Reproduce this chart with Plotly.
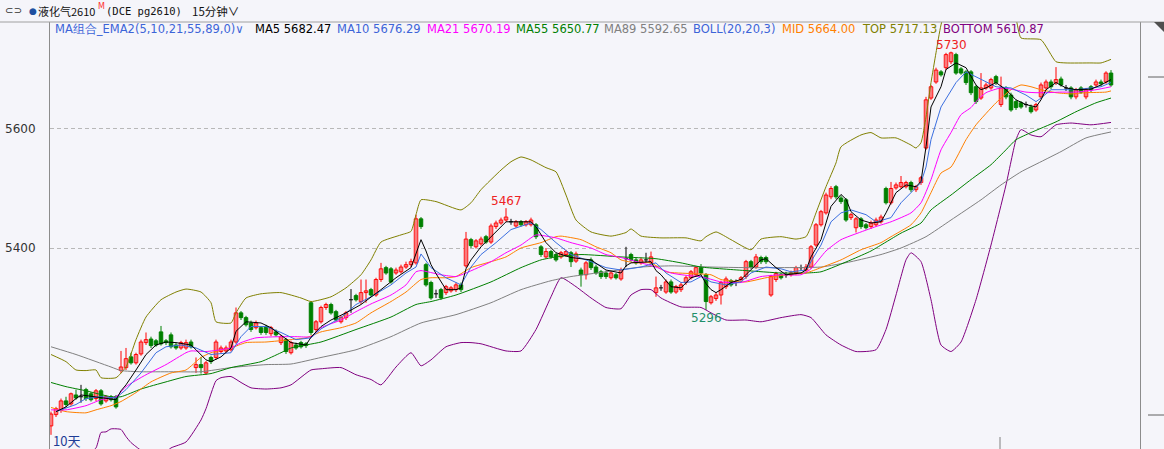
import plotly.graph_objects as go

# 15-minute candles, pg2610
opens = [
    5101, 5120, 5127, 5143, 5138, 5153, 5150, 5162, 5155, 5147,
    5160, 5143, 5150, 5150, 5194, 5199, 5217, 5207, 5222, 5241,
    5247, 5244, 5259, 5244, 5254, 5237, 5232, 5232, 5242, 5199,
    5204, 5190, 5216, 5216, 5226, 5227, 5229, 5242, 5291, 5283,
    5274, 5266, 5266, 5268, 5256, 5259, 5241, 5246, 5224, 5237,
    5241, 5239, 5308, 5263, 5276, 5300, 5305, 5293, 5276, 5283,
    5313, 5320, 5310, 5325, 5330, 5321, 5347, 5367, 5365, 5358,
    5360, 5368, 5372, 5375, 5449, 5372, 5342, 5323, 5330, 5325,
    5328, 5330, 5338, 5370, 5414, 5402, 5407, 5419, 5410, 5436,
    5442, 5447, 5444, 5437, 5444, 5439, 5439, 5439, 5402, 5385,
    5394, 5389, 5385, 5389, 5392, 5378, 5363, 5355, 5380, 5368,
    5360, 5358, 5350, 5355, 5348, 5382, 5389, 5380, 5375, 5380,
    5375, 5325, 5333, 5326, 5343, 5326, 5330, 5342, 5350, 5355,
    5367, 5355, 5308, 5315, 5321, 5335, 5345, 5342, 5347, 5352,
    5377, 5368, 5384, 5384, 5321, 5347, 5355, 5355, 5355, 5358,
    5367, 5363, 5368, 5405, 5439, 5459, 5486, 5503, 5484, 5481,
    5451, 5434, 5449, 5439, 5436, 5439, 5444, 5500, 5476, 5501,
    5503, 5503, 5510, 5498, 5510, 5568, 5652, 5679, 5696, 5703,
    5713, 5725, 5701, 5696, 5696, 5671, 5652, 5669, 5669, 5688,
    5641, 5669, 5657, 5646, 5644, 5641, 5637, 5632, 5654, 5669,
    5679, 5678, 5684, 5669, 5669, 5654, 5669, 5654, 5671, 5674,
    5679, 5679, 5694]
closes = [
    5121, 5130, 5143, 5137, 5155, 5148, 5150, 5147, 5145, 5160,
    5138, 5150, 5145, 5133, 5200, 5214, 5207, 5221, 5242, 5246,
    5236, 5237, 5239, 5241, 5234, 5232, 5241, 5241, 5234, 5204,
    5199, 5207, 5209, 5242, 5232, 5232, 5242, 5291, 5283, 5271,
    5263, 5274, 5258, 5258, 5266, 5254, 5251, 5226, 5241, 5232,
    5234, 5236, 5258, 5276, 5300, 5305, 5291, 5279, 5283, 5291,
    5313, 5313, 5325, 5328, 5321, 5347, 5365, 5358, 5343, 5363,
    5368, 5372, 5377, 5449, 5436, 5338, 5316, 5323, 5316, 5335,
    5333, 5338, 5330, 5415, 5404, 5412, 5415, 5410, 5437, 5442,
    5447, 5452, 5444, 5444, 5439, 5444, 5447, 5419, 5389, 5394,
    5385, 5380, 5392, 5394, 5377, 5390, 5355, 5375, 5367, 5358,
    5352, 5352, 5358, 5350, 5363, 5382, 5380, 5375, 5380, 5380,
    5385, 5333, 5333, 5343, 5326, 5335, 5338, 5350, 5360, 5367,
    5358, 5310, 5318, 5321, 5342, 5348, 5338, 5342, 5350, 5377,
    5368, 5385, 5377, 5377, 5352, 5357, 5350, 5355, 5358, 5367,
    5367, 5368, 5402, 5439, 5461, 5489, 5500, 5486, 5478, 5447,
    5456, 5449, 5436, 5434, 5442, 5447, 5452, 5476, 5500, 5506,
    5510, 5510, 5498, 5503, 5518, 5649, 5671, 5699, 5691, 5725,
    5728, 5694, 5694, 5678, 5661, 5646, 5669, 5674, 5683, 5678,
    5669, 5654, 5632, 5636, 5637, 5641, 5629, 5641, 5674, 5679,
    5671, 5683, 5674, 5669, 5654, 5666, 5662, 5666, 5666, 5679,
    5676, 5694, 5674]
highs = [
    5125, 5133, 5147, 5150, 5157, 5162, 5170, 5165, 5158, 5163,
    5163, 5153, 5153, 5153, 5227, 5232, 5224, 5224, 5246, 5258,
    5251, 5247, 5269, 5247, 5258, 5241, 5244, 5246, 5246, 5216,
    5217, 5210, 5219, 5246, 5236, 5236, 5246, 5300, 5294, 5286,
    5278, 5278, 5269, 5271, 5269, 5263, 5254, 5249, 5244, 5241,
    5244, 5242, 5311, 5279, 5303, 5308, 5308, 5296, 5286, 5294,
    5331, 5323, 5347, 5347, 5333, 5350, 5375, 5370, 5368, 5367,
    5372, 5377, 5382, 5456, 5452, 5375, 5345, 5330, 5333, 5338,
    5336, 5342, 5342, 5427, 5417, 5415, 5419, 5422, 5441, 5446,
    5451, 5467, 5449, 5447, 5447, 5447, 5451, 5442, 5405, 5400,
    5397, 5392, 5395, 5397, 5395, 5394, 5367, 5378, 5384, 5372,
    5363, 5362, 5362, 5358, 5367, 5402, 5392, 5384, 5384, 5392,
    5394, 5352, 5338, 5347, 5347, 5338, 5342, 5353, 5363, 5370,
    5373, 5358, 5321, 5325, 5345, 5352, 5348, 5347, 5353, 5380,
    5380, 5390, 5387, 5387, 5355, 5360, 5358, 5360, 5362, 5370,
    5372, 5373, 5405, 5442, 5464, 5493, 5504, 5506, 5488, 5484,
    5459, 5452, 5452, 5442, 5446, 5451, 5456, 5503, 5511, 5510,
    5521, 5513, 5513, 5506, 5521, 5654, 5674, 5703, 5699, 5728,
    5730, 5728, 5704, 5699, 5699, 5674, 5694, 5678, 5686, 5691,
    5688, 5672, 5661, 5649, 5647, 5646, 5641, 5644, 5678, 5683,
    5683, 5704, 5688, 5674, 5672, 5669, 5672, 5669, 5674, 5683,
    5683, 5697, 5699]
lows = [
    5086, 5116, 5123, 5132, 5135, 5145, 5140, 5143, 5142, 5143,
    5135, 5140, 5142, 5130, 5190, 5195, 5204, 5204, 5219, 5237,
    5232, 5234, 5236, 5237, 5231, 5229, 5229, 5229, 5231, 5190,
    5189, 5187, 5205, 5212, 5222, 5224, 5226, 5239, 5279, 5268,
    5259, 5263, 5254, 5254, 5252, 5251, 5237, 5222, 5221, 5229,
    5231, 5232, 5254, 5259, 5273, 5296, 5288, 5276, 5273, 5279,
    5291, 5310, 5306, 5308, 5318, 5318, 5343, 5355, 5340, 5355,
    5357, 5365, 5368, 5372, 5432, 5335, 5313, 5316, 5313, 5321,
    5325, 5326, 5326, 5367, 5400, 5399, 5404, 5407, 5407, 5432,
    5439, 5444, 5439, 5434, 5436, 5436, 5436, 5415, 5385, 5382,
    5382, 5377, 5382, 5385, 5368, 5375, 5335, 5347, 5363, 5355,
    5348, 5348, 5347, 5347, 5345, 5368, 5377, 5372, 5372, 5375,
    5372, 5318, 5328, 5323, 5323, 5323, 5326, 5338, 5347, 5352,
    5355, 5296, 5305, 5311, 5305, 5331, 5335, 5336, 5343, 5348,
    5365, 5365, 5373, 5373, 5318, 5343, 5347, 5350, 5352, 5355,
    5362, 5360, 5365, 5402, 5436, 5456, 5482, 5482, 5474, 5444,
    5447, 5426, 5432, 5431, 5432, 5436, 5441, 5473, 5473, 5498,
    5500, 5500, 5494, 5494, 5506, 5565, 5649, 5676, 5688, 5699,
    5709, 5691, 5691, 5674, 5657, 5642, 5649, 5666, 5666, 5674,
    5637, 5650, 5629, 5632, 5634, 5636, 5626, 5629, 5650, 5666,
    5667, 5674, 5671, 5664, 5650, 5650, 5659, 5650, 5662, 5671,
    5672, 5676, 5671]

# indicator lines, (bar index, value) read at sample points
ma5_pts = [(1, 5125), (3, 5133), (5, 5147), (6, 5153), (7, 5152), (9, 5150), (11, 5148), (13, 5145),
           (14, 5160), (15, 5170), (17, 5195), (19, 5221), (21, 5237), (23, 5242), (25, 5241), (28, 5237),
           (29, 5229), (31, 5212), (32, 5209), (34, 5217), (36, 5232), (37, 5260), (39, 5276), (42, 5274),
           (44, 5266), (46, 5254), (48, 5241), (51, 5237), (52, 5250), (54, 5268), (56, 5279), (59, 5291),
           (62, 5305), (66, 5330), (69, 5350), (72, 5367), (73, 5392), (74, 5414), (75, 5395), (76, 5372),
           (77, 5357), (79, 5330), (81, 5330), (82, 5333), (83, 5365), (84, 5380), (86, 5402), (89, 5427),
           (91, 5444), (96, 5444), (97, 5436), (99, 5409), (101, 5392), (104, 5384), (108, 5380), (111, 5363),
           (114, 5358), (115, 5370), (116, 5375), (120, 5377), (121, 5362), (122, 5355), (124, 5335),
           (126, 5333), (128, 5350), (130, 5355), (131, 5340), (132, 5330), (133, 5325), (134, 5330),
           (136, 5342), (138, 5347), (140, 5363), (142, 5380), (143, 5382), (145, 5367), (147, 5355),
           (150, 5358), (151, 5363), (152, 5385), (154, 5414), (156, 5470), (158, 5490), (159, 5482),
           (160, 5461), (162, 5447), (164, 5442), (166, 5444), (167, 5459), (169, 5493), (171, 5506),
           (173, 5503), (174, 5512), (175, 5570), (176, 5637), (178, 5671), (179, 5700), (181, 5711),
           (183, 5703), (185, 5674), (186, 5666), (187, 5669), (189, 5678), (191, 5666), (193, 5649),
           (195, 5641), (197, 5637), (198, 5649), (199, 5666), (201, 5678), (203, 5669), (205, 5666),
           (208, 5667), (210, 5674), (212, 5683)]
ma10_pts = [(1, 5125), (5, 5137), (7, 5147), (10, 5150), (13, 5148), (15, 5162), (18, 5190), (21, 5224),
            (23, 5234), (26, 5237), (29, 5232), (32, 5221), (36, 5224), (38, 5251), (40, 5268), (43, 5268),
            (46, 5258), (49, 5246), (52, 5249), (54, 5264), (58, 5283), (61, 5305), (64, 5318), (68, 5338),
            (71, 5358), (73, 5368), (74, 5390), (76, 5367), (79, 5350), (81, 5342), (82, 5338), (84, 5368),
            (86, 5389), (89, 5409), (92, 5431), (96, 5442), (98, 5431), (101, 5409), (104, 5389),
            (108, 5377), (111, 5367), (114, 5363), (118, 5368), (121, 5375), (123, 5358), (126, 5342),
            (128, 5343), (130, 5352), (132, 5343), (135, 5338), (138, 5343), (140, 5358), (143, 5368),
            (146, 5365), (148, 5360), (151, 5363), (154, 5405), (156, 5444), (158, 5459), (160, 5464),
            (163, 5456), (165, 5444), (168, 5451), (170, 5476), (172, 5493), (174, 5510), (175, 5536),
            (176, 5582), (178, 5637), (181, 5678), (183, 5696), (185, 5688), (187, 5679), (189, 5671),
            (192, 5669), (195, 5657), (197, 5646), (198, 5652), (200, 5666), (203, 5666), (205, 5666),
            (208, 5669), (210, 5671), (212, 5678)]
ma21_pts = [(0, 5128), (3, 5128), (7, 5135), (10, 5145), (13, 5150), (15, 5167), (19, 5187), (23, 5204),
            (27, 5224), (28, 5227), (31, 5226), (34, 5229), (36, 5232), (38, 5241), (41, 5249), (46, 5251),
            (49, 5251), (52, 5251), (54, 5266), (58, 5279), (61, 5293), (64, 5306), (68, 5321), (71, 5338),
            (73, 5360), (74, 5362), (78, 5355), (81, 5352), (83, 5358), (88, 5377), (91, 5392), (94, 5405),
            (97, 5422), (99, 5420), (101, 5417), (104, 5409), (108, 5400), (111, 5389), (114, 5384),
            (118, 5375), (121, 5368), (124, 5358), (128, 5353), (130, 5352), (134, 5343), (138, 5342),
            (142, 5352), (146, 5355), (150, 5355), (152, 5365), (155, 5395), (158, 5414), (162, 5427),
            (165, 5436), (168, 5444), (172, 5459), (174, 5476), (176, 5515), (178, 5565), (180, 5594),
            (182, 5624), (184, 5636), (185, 5646), (187, 5661), (190, 5669), (192, 5667), (195, 5662),
            (197, 5661), (199, 5661), (202, 5662), (205, 5662), (209, 5666), (212, 5671)]
ma55_pts = [(0, 5174), (3, 5167), (7, 5160), (12, 5150), (14, 5150), (18, 5163), (23, 5175), (27, 5184),
            (32, 5189), (36, 5199), (42, 5209), (46, 5224), (48, 5232), (54, 5242), (61, 5263), (68, 5284),
            (73, 5305), (76, 5310), (81, 5321), (88, 5343), (94, 5367), (98, 5380), (101, 5385), (106, 5389),
            (114, 5385), (121, 5382), (126, 5375), (130, 5368), (139, 5362), (146, 5358), (151, 5358),
            (154, 5360), (160, 5380), (164, 5395), (167, 5410), (170, 5425), (174, 5442), (176, 5464),
            (180, 5489), (184, 5515), (188, 5540), (191, 5565), (193, 5582), (196, 5594), (201, 5612),
            (205, 5629), (209, 5644), (212, 5652)]
ma89_pts = [(0, 5234), (5, 5221), (12, 5200), (14, 5194), (18, 5192), (24, 5192), (30, 5192), (36, 5199),
            (43, 5204), (48, 5205), (54, 5216), (61, 5229), (68, 5251), (74, 5274), (81, 5288), (88, 5308),
            (94, 5330), (100, 5345), (104, 5352), (111, 5360), (118, 5368), (124, 5370), (132, 5368),
            (139, 5367), (146, 5367), (154, 5368), (160, 5377), (166, 5389), (170, 5400), (175, 5419),
            (180, 5447), (186, 5481), (190, 5506), (194, 5528), (198, 5545), (202, 5562), (207, 5585),
            (212, 5595)]
mid_pts = [(0, 5132), (3, 5125), (7, 5123), (9, 5128), (12, 5135), (14, 5142), (17, 5157), (20, 5175),
           (24, 5190), (27, 5195), (30, 5216), (32, 5224), (36, 5232), (39, 5241), (43, 5242), (48, 5246),
           (51, 5249), (54, 5259), (58, 5266), (61, 5274), (64, 5291), (68, 5310), (71, 5326), (74, 5347),
           (76, 5350), (79, 5350), (81, 5352), (84, 5367), (88, 5377), (91, 5385), (94, 5400), (98, 5409),
           (101, 5419), (102, 5420), (106, 5414), (109, 5402), (112, 5392), (114, 5380), (117, 5375),
           (120, 5375), (123, 5360), (128, 5357), (132, 5355), (134, 5347), (139, 5343), (143, 5350),
           (147, 5355), (151, 5358), (154, 5367), (158, 5380), (162, 5397), (166, 5409), (168, 5419),
           (172, 5439), (174, 5459), (176, 5493), (178, 5526), (180, 5536), (183, 5582), (185, 5607),
           (189, 5644), (192, 5666), (194, 5674), (196, 5671), (198, 5666), (201, 5661), (204, 5659),
           (207, 5661), (211, 5662), (212, 5664)]
top_pts = [(0, 5221), (3, 5209), (5, 5195), (7, 5194), (9, 5195), (10, 5182), (13, 5182), (15, 5200),
           (17, 5246), (19, 5284), (22, 5313), (25, 5326), (27, 5331), (30, 5326), (32, 5308), (33, 5276),
           (36, 5274), (37, 5291), (39, 5316), (42, 5323), (46, 5325), (50, 5316), (52, 5310), (56, 5318),
           (59, 5333), (62, 5355), (64, 5380), (66, 5410), (70, 5422), (72, 5428), (73, 5456), (74, 5481),
           (77, 5478), (82, 5464), (84, 5476), (86, 5498), (90, 5531), (92, 5545), (94, 5553), (96, 5548),
           (99, 5535), (101, 5528), (103, 5489), (105, 5447), (108, 5427), (112, 5420), (115, 5426),
           (116, 5432), (118, 5420), (122, 5417), (127, 5417), (130, 5412), (131, 5419), (133, 5427),
           (136, 5414), (140, 5397), (142, 5415), (146, 5419), (149, 5415), (151, 5419), (152, 5436),
           (153, 5459), (155, 5503), (157, 5543), (158, 5570), (162, 5590), (164, 5594), (166, 5585),
           (169, 5585), (172, 5573), (173, 5568), (174, 5577), (175, 5620), (176, 5678), (177, 5728),
           (178, 5775), (180, 5830), (184, 5855), (188, 5850), (191, 5820), (193, 5785), (194, 5753),
           (198, 5750), (201, 5713), (203, 5711), (208, 5711), (210, 5711), (212, 5717)]
bottom_pts = [(0, 5043), (3, 5041), (5, 5055), (7, 5052), (9, 5064), (10, 5090), (11, 5091), (12, 5096),
              (14, 5095), (15, 5083), (16, 5073), (18, 5060), (20, 5052), (22, 5050), (24, 5064), (27, 5074),
              (30, 5111), (31, 5130), (33, 5177), (34, 5182), (36, 5184), (38, 5174), (40, 5165), (43, 5163),
              (46, 5165), (48, 5170), (52, 5195), (54, 5197), (58, 5199), (61, 5187), (64, 5179), (66, 5170),
              (69, 5200), (72, 5224), (74, 5202), (76, 5212), (79, 5234), (82, 5241), (84, 5241), (86, 5239),
              (91, 5227), (94, 5227), (97, 5263), (100, 5318), (102, 5350), (105, 5335), (108, 5316),
              (111, 5300), (114, 5298), (116, 5321), (118, 5330), (120, 5330), (122, 5316), (126, 5301),
              (130, 5300), (132, 5291), (135, 5279), (139, 5279), (142, 5276), (146, 5283), (150, 5288),
              (152, 5283), (155, 5254), (158, 5237), (161, 5226), (165, 5229), (167, 5263), (169, 5321),
              (171, 5380), (172, 5392), (174, 5377), (176, 5313), (178, 5237), (180, 5226), (182, 5242),
              (185, 5313), (188, 5405), (191, 5506), (193, 5582), (194, 5599), (196, 5590), (198, 5587),
              (201, 5607), (204, 5610), (208, 5607), (212, 5611)]

legend_items = [
    ("MA组合_EMA2(5,10,21,55,89,0)∨", "#3c64d8", 53),
    ("MA5 5682.47", "#000000", 253),
    ("MA10 5676.29", "#3c64d8", 335),
    ("MA21 5670.19", "#ff00ff", 425),
    ("MA55 5650.77", "#008000", 514),
    ("MA89 5592.65", "#808080", 602),
    ("BOLL(20,20,3)", "#3c64d8", 691),
    ("MID 5664.00", "#ff8000", 780),
    ("TOP 5717.13", "#808000", 860),
    ("BOTTOM 5610.87", "#800080", 941),
]
# marked extremes: (bar index, use high?, colour)
marks = [(91, True, "#ee2222"), (131, False, "#1f8f6a"), (180, True, "#ee2222")]

bg = "#f5f5fa"
up_col = "#ff0000"
dn_col = "#008000"

# pixel helpers for the 1164x449 frame (plot area x 50..1140, y 22..449)
def px(X):
    return (X - 50) / 1090

def py(Y):
    return 1 - (Y - 22) / 427

n = len(closes)
up = [i for i in range(n) if closes[i] > opens[i]]
dn = [i for i in range(n) if closes[i] < opens[i]]
flat = [i for i in range(n) if closes[i] == opens[i]]

fig = go.Figure()

# wicks
for ids, col in ((up, up_col), (dn, dn_col), (flat, "#000000")):
    wx, wy = [], []
    for i in ids:
        wx += [i, i, None]
        wy += [lows[i], highs[i], None]
    fig.add_trace(go.Scatter(x=wx, y=wy, mode="lines", line=dict(color=col, width=1),
                             hoverinfo="skip", showlegend=False))

# bodies
fig.add_trace(go.Bar(x=up, base=[opens[i] for i in up], y=[closes[i] - opens[i] for i in up],
                     width=0.7, marker=dict(color=bg, line=dict(color=up_col, width=1)), showlegend=False))
fig.add_trace(go.Bar(x=dn, base=[closes[i] for i in dn], y=[opens[i] - closes[i] for i in dn],
                     width=0.7, marker=dict(color=dn_col, line=dict(color=dn_col, width=1)), showlegend=False))
dx, dy = [], []
for i in flat:
    dx += [i - 0.4, i + 0.4, None]
    dy += [closes[i], closes[i], None]
fig.add_trace(go.Scatter(x=dx, y=dy, mode="lines", line=dict(color="#000000", width=1),
                         hoverinfo="skip", showlegend=False))

# indicator lines
lines = [
    (top_pts, "#808000", "spline"),
    (bottom_pts, "#800080", "spline"),
    (ma89_pts, "#808080", "spline"),
    (ma55_pts, "#008000", "spline"),
    (mid_pts, "#ff8000", "spline"),
    (ma21_pts, "#ff00ff", "spline"),
    (ma10_pts, "#3b6fe0", "linear"),
    (ma5_pts, "#000000", "linear"),
]
for pts, col, shape in lines:
    fig.add_trace(go.Scatter(x=[p[0] for p in pts], y=[p[1] for p in pts], mode="lines",
                             line=dict(color=col, width=1, shape=shape, smoothing=0.5),
                             hoverinfo="skip", showlegend=False))

ann = []
for text, col, X in legend_items:
    ann.append(dict(text=text, x=px(X), y=py(29), xref="paper", yref="paper", xanchor="left",
                    yanchor="middle", showarrow=False, font=dict(size=11.5, color=col, family="DejaVu Sans")))

for i, is_high, col in marks:
    v = highs[i] if is_high else lows[i]
    ann.append(dict(text=str(v), x=i, y=v, xref="x", yref="y", showarrow=False,
                    yanchor="bottom" if is_high else "top", yshift=-2 if is_high else 1,
                    font=dict(size=12, color=col, family="DejaVu Sans")))

# header row
header = [
    ("⊂⊃", "#333333", 3, 11, 10, "DejaVu Sans"),
    ("●", "#2050a0", 27, 11, 9, "DejaVu Sans"),
    ("液化气2610", "#111111", 36, 11, 11, "Noto Sans CJK SC"),
    ("M", "#ff3030", 96, 7, 8, "DejaVu Sans"),
    ("(DCE pg2610)", "#111111", 104, 11, 10.5, "DejaVu Sans Mono"),
    ("15分钟∨", "#111111", 190, 11, 11.5, "Noto Sans CJK SC"),
]
for text, col, X, Y, size, fam in header:
    ann.append(dict(text=text, x=px(X), y=py(Y), xref="paper", yref="paper", xanchor="left",
                    yanchor="middle", showarrow=False, font=dict(size=size, color=col, family=fam)))

ann.append(dict(text="10天", x=px(51), y=py(440), xref="paper", yref="paper", xanchor="left",
                yanchor="middle", showarrow=False,
                font=dict(size=13, color="#1e3c96", family="Noto Sans CJK SC")))

shapes = [
    dict(type="line", xref="paper", yref="paper", x0=px(0), x1=px(1164), y0=1, y1=1,
         line=dict(color="#a0a0a0", width=1)),
    dict(type="path", xref="paper", yref="paper",
         path=f"M {px(1154)},{py(22)} L {px(1164)},{py(22)} L {px(1164)},{py(32)} Z",
         fillcolor="#505050", line=dict(width=0)),
    dict(type="line", xref="paper", yref="paper", x0=px(1148), x1=px(1164), y0=py(77), y1=py(77),
         line=dict(color="#606060", width=1)),
    dict(type="line", xref="paper", yref="paper", x0=px(1148), x1=px(1164), y0=py(415), y1=py(415),
         line=dict(color="#606060", width=1)),
    dict(type="line", xref="paper", yref="paper", x0=px(1000), x1=px(1000), y0=0, y1=py(437),
         line=dict(color="#808080", width=1)),
]

fig.update_layout(
    width=1164, height=449,
    margin=dict(l=50, r=24, t=22, b=0),
    paper_bgcolor=bg, plot_bgcolor=bg,
    barmode="overlay", hovermode=False, showlegend=False,
    annotations=ann, shapes=shapes,
    xaxis=dict(range=[-0.2, 217.8], visible=False),
    yaxis=dict(range=[5062.2, 5779.8], tickvals=[5400, 5600], showgrid=True,
               gridcolor="#b8b8b8", griddash="4px,3px", gridwidth=1, zeroline=False,
               showline=True, linecolor="#8c8c8c", mirror=True, ticks="",
               ticklabelstandoff=11, tickfont=dict(size=12, color="#333333", family="DejaVu Sans")),
)

# page body has a default margin; drop it so the chart sits at the window's corner
fig.write_html("out.html", config={"displayModeBar": False},
               post_script="document.body.style.margin='0';document.body.style.overflow='hidden';")
